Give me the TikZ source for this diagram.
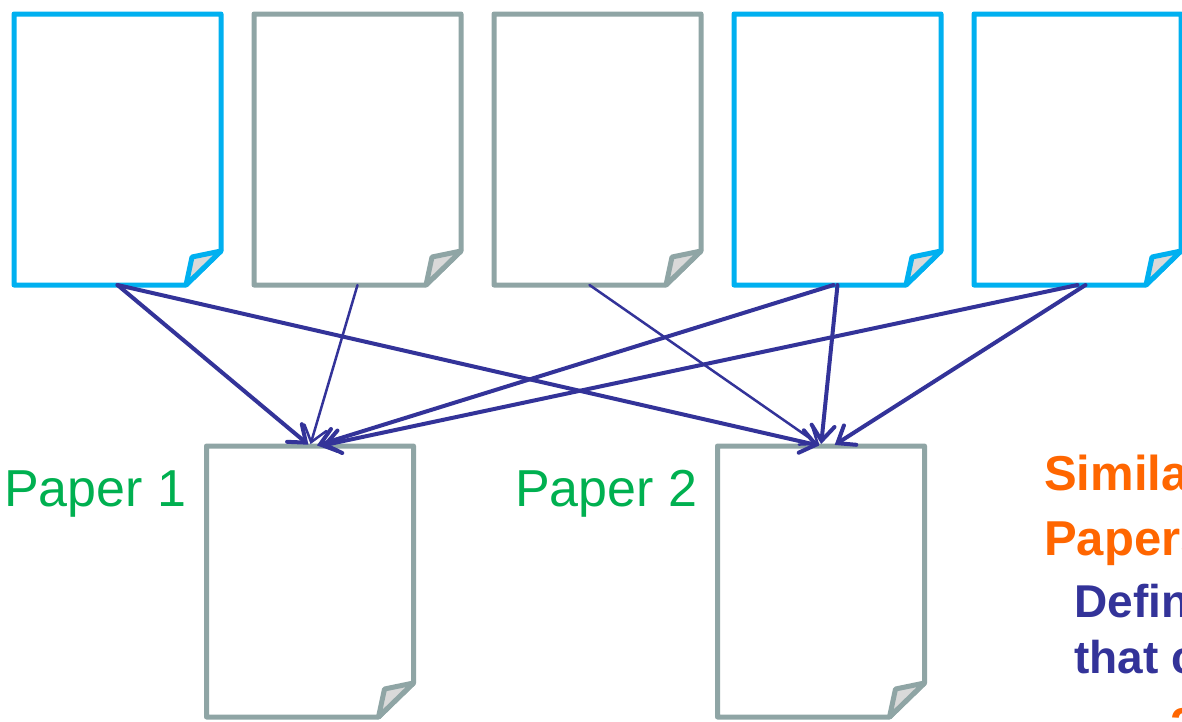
\documentclass[tikz,border=0pt]{standalone}
\usepackage{fontspec}
\setmainfont{Liberation Sans}
\usetikzlibrary{arrows.meta}
\definecolor{docblue}{HTML}{00B0F0}
\definecolor{docgray}{HTML}{8FA5A5}
\definecolor{foldgray}{HTML}{D9D9D9}
\definecolor{linkblue}{HTML}{333399}
\definecolor{labelgreen}{HTML}{00B050}
\definecolor{titleorange}{HTML}{FF6600}
\begin{document}
\begin{tikzpicture}[x=1pt,y=-1pt,
  docbox/.style={minimum width=207pt, minimum height=271pt, inner sep=0pt, outer sep=0pt, draw=none},
  docline/.style={line width=5pt, line join=round},
  cite/.style={draw=linkblue, line width=4pt, line cap=round, shorten >=2pt,
    -{Straight Barb[length=15pt,width=23pt,line cap=round]}},
  citethin/.style={cite, line width=2.5pt},
  paperlabel/.style={anchor=base west, inner sep=0pt, text=labelgreen, font=\fontsize{52}{52}\selectfont},
  headline/.style={anchor=base west, inner sep=0pt, text=titleorange, font=\fontsize{49}{49}\selectfont\bfseries},
  bodyline/.style={anchor=base west, inner sep=0pt, text=linkblue, font=\fontsize{46}{46}\selectfont\bfseries}]
  \useasboundingbox (0,0) rectangle (1182,721);
  \fill[white] (0,0) rectangle (1182,721);
  \clip (0,0) rectangle (1182,721);

  % citing documents (top row) and the two cited papers
  \node[docbox] (t1) at (117.5,149.5) {};
  \node[docbox] (t2) at (357.5,149.5) {};
  \node[docbox] (t3) at (597.5,149.5) {};
  \node[docbox] (t4) at (837.5,149.5) {};
  \node[docbox] (t5) at (1077.5,149.5) {};
  \node[docbox] (p1) at (310,581.5) {};
  \node[docbox] (p2) at (821,581.5) {};

  % page outlines with a folded lower-right corner
  \foreach \n/\c in {t1/docblue, t2/docgray, t3/docgray, t4/docblue, t5/docblue, p1/docgray, p2/docgray} {
    \draw[docline, draw=\c] (\n.north west) -- (\n.north east) -- ([yshift=34pt]\n.south east)
      -- ([xshift=-35pt]\n.south east) -- (\n.south west) -- cycle;
    \draw[docline, draw=\c, fill=foldgray] ([xshift=-35pt]\n.south east)
      -- ([xshift=-29pt,yshift=28pt]\n.south east) -- ([yshift=34pt]\n.south east) -- cycle;
  }

  % citation links
  \draw[cite] (t1.south) -- (p1.north);
  \draw[cite] (t1.south) -- (p2.north);
  \draw[citethin] (t2.south) -- (p1.north);
  \draw[citethin] ([xshift=-8pt]t3.south) -- (p2.north);
  \draw[cite] ([xshift=-4pt]t4.south) -- ([xshift=5pt]p1.north);
  \draw[cite] (t4.south) -- (p2.north);
  \draw[cite] (t5.south) -- ([xshift=10pt]p1.north);
  \draw[cite] ([xshift=8pt]t5.south) -- ([xshift=12pt]p2.north);

  % labels
  \node[paperlabel] (l1) at (4,506) {Paper 1};
  \node[paperlabel] (l2) at (515,506) {Paper 2};

  % side text
  \node[headline] (h1) at (1044,490) {Similarity};
  \node[headline] (h2) at (1044,555) {Papers};
  \node[bodyline] (b1) at (1074,617) {Defined};
  \node[bodyline] (b2) at (1074,673) {that cite};
  \node[headline] (h3) at (1170,742) {2};
\end{tikzpicture}
\end{document}
